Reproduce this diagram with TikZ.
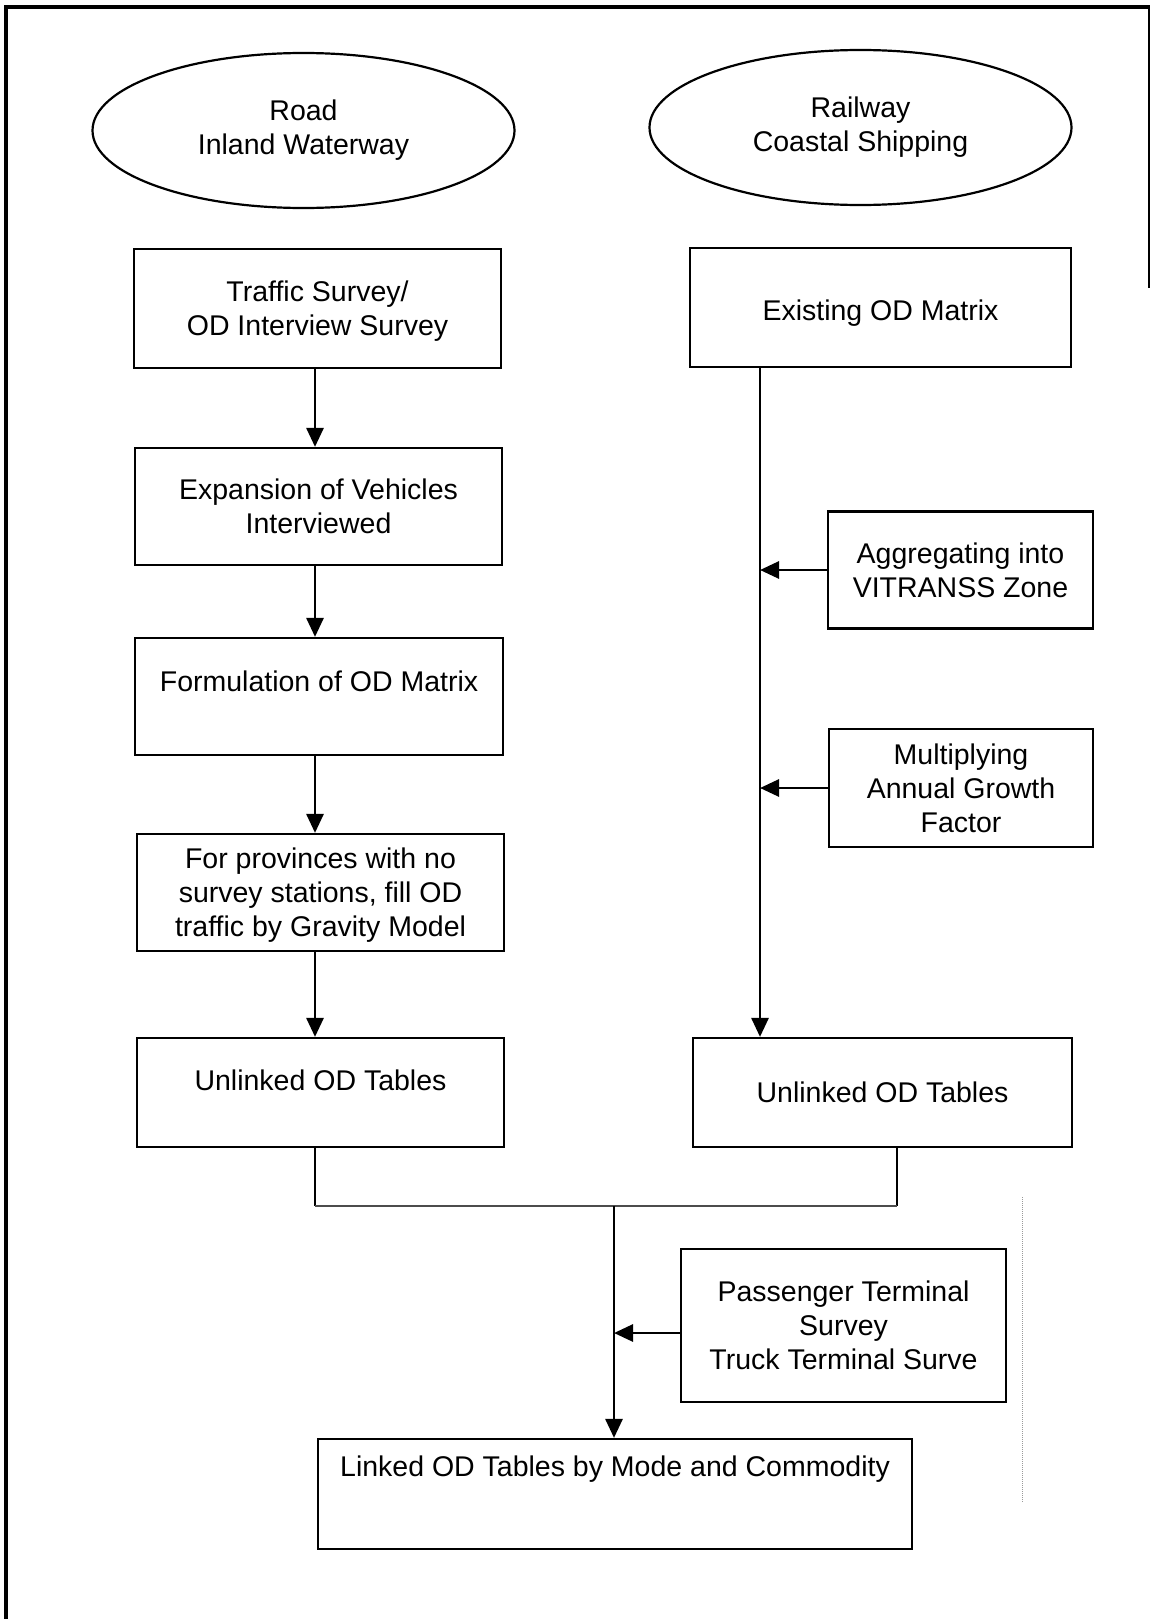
\documentclass[tikz,border=0pt]{standalone}
\usepackage{fontspec}
\setmainfont{Liberation Sans}
\usetikzlibrary{shapes.geometric,arrows.meta}
\begin{document}
\begin{tikzpicture}[x=1pt,y=-1pt,
  every node/.style={font=\fontsize{28.5}{34}\selectfont, align=center, inner sep=0pt},
  stepbox/.style={draw, rectangle, line width=2.2pt},
  oval/.style={draw, ellipse, line width=2.2pt, minimum width=422pt, minimum height=155pt},
  flow/.style={line width=2.8pt, -{Triangle[length=19pt,width=17pt]}},
  joint/.style={line width=2.8pt},
  seam/.style={line width=1.5pt, black!70},
]
\useasboundingbox (0,0) rectangle (1151,1619);

% page frame
\draw[line width=4pt] (6,1619) -- (6,7) -- (1150,7);
\draw[line width=2pt] (1149,7) -- (1149,288);
\draw[line width=1pt, black!40, densely dotted] (1022,1197) -- (1022,1503);

% mode groups
\node[oval] (road) at (303.5,130.5) {Road\\Inland Waterway};
\node[oval] (rail) at (860.5,127.5) {Railway\\Coastal Shipping};

% road / inland waterway column
\node[stepbox, minimum width=367pt, minimum height=119pt] (survey) at (317.5,308.5) {};
\node (survey-txt) at ([yshift=-3pt]survey.center) {Traffic Survey/\\OD Interview Survey};
\node[stepbox, minimum width=367pt, minimum height=117pt] (expand) at (318.5,506.5)
  {Expansion of Vehicles\\Interviewed};
\node[stepbox, minimum width=368pt, minimum height=117pt] (formul) at (319,696.5) {};
\node (formul-txt) at ([yshift=15.5pt]formul.center) {Formulation of OD Matrix};
\node[stepbox, minimum width=367pt, minimum height=117pt] (gravity) at (320.5,892.5) {};
\node (gravity-txt) at ([yshift=-3pt]gravity.center)
  {For provinces with no\\survey stations, fill OD\\traffic by Gravity Model};
\node[stepbox, minimum width=367pt, minimum height=109pt] (unlinkL) at (320.5,1092.5) {};
\node (unlinkL-txt) at ([yshift=12.5pt]unlinkL.center) {Unlinked OD Tables};

% railway / coastal shipping column
\node[stepbox, minimum width=381pt, minimum height=119pt] (existing) at (880.5,307.5) {};
\node (existing-txt) at ([yshift=-6pt]existing.center) {Existing OD Matrix};
\node[stepbox, minimum width=265pt, minimum height=117pt] (aggr) at (960.5,570)
  {Aggregating into\\VITRANSS Zone};
\node[stepbox, minimum width=264pt, minimum height=118pt] (growth) at (961,788)
  {Multiplying\\Annual Growth\\Factor};
\node[stepbox, minimum width=379pt, minimum height=109pt] (unlinkR) at (882.5,1092.5)
  {Unlinked OD Tables};

% linking stage
\node[stepbox, minimum width=325pt, minimum height=153pt] (terminal) at (843.5,1325.5)
  {Passenger Terminal\\Survey\\Truck Terminal Surve};
\node[stepbox, minimum width=594pt, minimum height=110pt] (linked) at (615,1494) {};
\node (linked-txt) at ([yshift=25pt]linked.center) {Linked OD Tables by Mode and Commodity};

% column guides
\coordinate (lcol) at (315,0);
\coordinate (rcol) at (760,0);
\coordinate (rjoin) at (897,0);
\coordinate (merge) at (614,1206);

% connectors
\draw[flow] (survey.south -| lcol) -- (expand.north -| lcol);
\draw[flow] (expand.south -| lcol) -- (formul.north -| lcol);
\draw[flow] (formul.south -| lcol) -- (gravity.north -| lcol);
\draw[flow] (gravity.south -| lcol) -- (unlinkL.north -| lcol);

\draw[flow] (existing.south -| rcol) -- (unlinkR.north -| rcol);
\draw[flow] (aggr.west) -- (aggr.west -| rcol);
\draw[flow] (growth.west) -- (growth.west -| rcol);

\draw[joint] (unlinkL.south -| lcol) -- (lcol |- merge);
\draw[joint] (unlinkR.south -| rjoin) -- (rjoin |- merge);
\draw[seam] (lcol |- merge) -- (rjoin |- merge);
\draw[flow] (merge) -- (linked.north -| merge);
\draw[flow] ([yshift=-7.5pt]terminal.west) -- ([yshift=-7.5pt]terminal.west -| merge);
\end{tikzpicture}
\end{document}
